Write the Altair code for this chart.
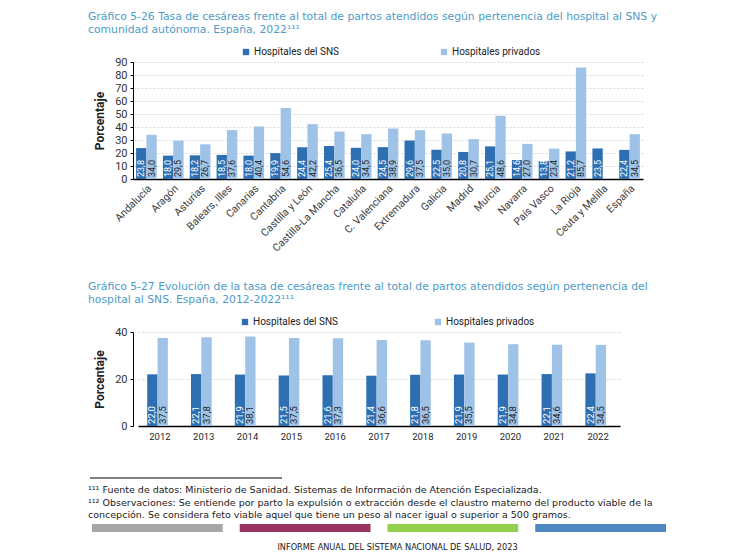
import altair as alt
import pandas as pd

# ---------------- data ----------------
series = ["Hospitales del SNS", "Hospitales privados"]
series_colors = ["#2e6fb2", "#9fc3e7"]

regiones = ["Andalucía", "Aragón", "Asturias", "Balears, Illes", "Canarias",
            "Cantabria", "Castilla y León", "Castilla-La Mancha", "Cataluña",
            "C. Valenciana", "Extremadura", "Galicia", "Madrid", "Murcia",
            "Navarra", "País Vasco", "La Rioja", "Ceuta y Melilla", "España"]
sns_2022 = [23.8, 18.0, 18.2, 18.5, 18.0, 19.9, 24.4, 25.4, 24.0, 24.5,
            29.6, 22.5, 20.8, 25.1, 14.6, 13.8, 21.2, 23.5, 22.4]
priv_2022 = [34.0, 29.5, 26.7, 37.6, 40.4, 54.6, 42.2, 36.5, 34.5, 38.9,
             37.5, 35.0, 30.7, 48.6, 27.0, 23.4, 85.7, None, 34.5]

anios = ["2012", "2013", "2014", "2015", "2016", "2017",
         "2018", "2019", "2020", "2021", "2022"]
sns_evol = [22.0, 22.1, 21.9, 21.5, 21.6, 21.4, 21.8, 21.9, 21.9, 22.1, 22.4]
priv_evol = [37.5, 37.8, 38.1, 37.5, 37.3, 36.6, 36.5, 35.5, 34.8, 34.6, 34.5]

ticks_1 = [0, 10, 20, 30, 40, 50, 60, 70, 80, 90]
ticks_2 = [0, 20, 40]

titulo_1 = ["Gráfico 5-26 Tasa de cesáreas frente al total de partos atendidos según pertenencia del hospital al SNS y",
            "comunidad autónoma. España, 2022¹¹¹"]
titulo_2 = ["Gráfico 5-27 Evolución de la tasa de cesáreas frente al total de partos atendidos según pertenencia del",
            "hospital al SNS. España, 2012-2022¹¹¹"]

nota_1 = "¹¹¹ Fuente de datos: Ministerio de Sanidad. Sistemas de Información de Atención Especializada."
nota_2 = "¹¹² Observaciones: Se entiende por parto la expulsión o extracción desde el claustro materno del producto viable de la"
nota_3 = "concepción. Se considera feto viable aquel que tiene un peso al nacer igual o superior a 500 gramos."
pie = "INFORME ANUAL DEL SISTEMA NACIONAL DE SALUD, 2023"
franja_colores = ["#a6a6a6", "#983462", "#92d050", "#4e87c2"]

FONT = "Roboto"
TFONT = "DejaVu Sans"


def long_df(cats, a, b):
    rows = []
    for c, va, vb in zip(cats, a, b):
        for s, v in ((series[0], va), (series[1], vb)):
            if v is not None:
                rows.append({"cat": c, "serie": s, "valor": v,
                             "etiqueta": f"{v:.1f}".replace(".", ",")})
    return pd.DataFrame(rows)


def panel(df, cats, width, height, ymax, yvals, xscale, x_axis, title_lines,
          title_offset, lx, ly, cpad, lab_size):
    x = alt.X("cat:N", sort=cats, title=None, scale=xscale, axis=x_axis)
    xo = alt.XOffset("serie:N", sort=series,
                     scale=alt.Scale(paddingInner=0, paddingOuter=0))
    yscale = alt.Scale(domain=[0, ymax], nice=False)
    yaxis = alt.Axis(values=yvals, title="Porcentaje", labelFont=FONT,
                     labelFontSize=11, labelColor="#333333",
                     labelOverlap=False,
                     domainColor="black", domainWidth=1,
                     tickColor="black", tickSize=3, labelPadding=3,
                     grid=True, gridColor="#cfcfcf", gridDash=[2, 2],
                     gridWidth=0.8, titleFont=FONT, titleFontSize=12,
                     titleFontWeight="bold", titleColor="#222222",
                     titlePadding=8)
    bars = alt.Chart(df).mark_bar().encode(
        x=x, xOffset=xo,
        y=alt.Y("valor:Q", scale=yscale, axis=yaxis),
        color=alt.Color("serie:N", sort=series,
                        scale=alt.Scale(domain=series, range=series_colors),
                        legend=alt.Legend(title=None, orient="none", legendX=lx,
                                          legendY=ly, direction="horizontal",
                                          symbolType="square", symbolSize=40,
                                          symbolStrokeWidth=0, labelFont=FONT,
                                          labelFontSize=10, labelColor="#222222",
                                          columnPadding=cpad, labelOffset=3)),
    )
    labels = alt.Chart(df).mark_text(angle=270, align="left", baseline="middle",
                                     dx=2, font=FONT, fontSize=lab_size).encode(
        x=x, xOffset=xo, y=alt.YDatum(0, scale=yscale, axis=yaxis),
        text="etiqueta:N",
        color=alt.condition(alt.datum.serie == series[0], alt.value("white"),
                            alt.value("#262626")),
    )
    return alt.layer(bars, labels).properties(
        width=width, height=height,
        title=alt.Title(title_lines, anchor="start", frame="group", dx=-45,
                        offset=title_offset, font=TFONT, fontSize=10.8,
                        fontWeight="normal", color="#4b9bc8", lineHeight=13.5),
    )


df1 = long_df(regiones, sns_2022, priv_2022)
df2 = long_df(anios, sns_evol, priv_evol)

xaxis1 = alt.Axis(labelAngle=-45, labelFont=FONT, labelFontSize=10.5,
                  labelColor="#404040", domainColor="black", domainWidth=1.3,
                  ticks=False, labelPadding=4)
xaxis2 = alt.Axis(labelAngle=0, labelFont=FONT, labelFontSize=9.5,
                  labelColor="#262626", domainColor="black", domainWidth=1.3,
                  ticks=False, labelPadding=5)

c1 = panel(df1, regiones, 510, 117, 90, ticks_1,
           alt.Scale(paddingInner=0.23, paddingOuter=0.115), xaxis1, titulo_1,
           12, 108, -15, 100, 9)
c2 = panel(df2, anios, 487, 94, 40, ticks_2,
           alt.Scale(range=[5, 487], paddingInner=0.42, paddingOuter=0.21),
           xaxis2, titulo_2, 12, 107, -15, 95, 9.5)

# ---------------- footer ----------------
one = alt.Data(values=[{"a": 1}])
franjas = pd.DataFrame({"i": list(range(len(franja_colores))), "c": franja_colores})

regla = alt.Chart(one).mark_rule(color="black", strokeWidth=1).encode(
    x=alt.value(-43), x2=alt.value(149), y=alt.value(11))


def linea(t, yv, size=9.5, align="left", xv=-45):
    return alt.Chart(one).mark_text(text=t, align=align, baseline="middle",
                                    font=TFONT, fontSize=size,
                                    color="#1a1a1a").encode(
        x=alt.value(xv), y=alt.value(yv))


barras = alt.Chart(franjas).mark_rect().encode(
    x=alt.X("i:O", scale=alt.Scale(range=[-41, 533], paddingInner=0.115,
                                   paddingOuter=0), axis=None),
    y=alt.value(57), y2=alt.value(65),
    color=alt.Color("c:N", scale=None),
)

footer = alt.layer(
    regla, linea(nota_1, 23), linea(nota_2, 36), linea(nota_3, 48), barras,
    linea(pie, 81, size=8.2, align="center", xv=264.5),
).properties(width=510, height=85)

chart = alt.vconcat(
    c1, c2, footer, spacing=26,
    padding={"left": 80, "top": 2, "right": 0, "bottom": 0},
).resolve_scale(color="independent").resolve_legend(
    color="independent").configure_view(stroke=None)

chart.save("out.html", embed_options={"renderer": "svg", "actions": False})
